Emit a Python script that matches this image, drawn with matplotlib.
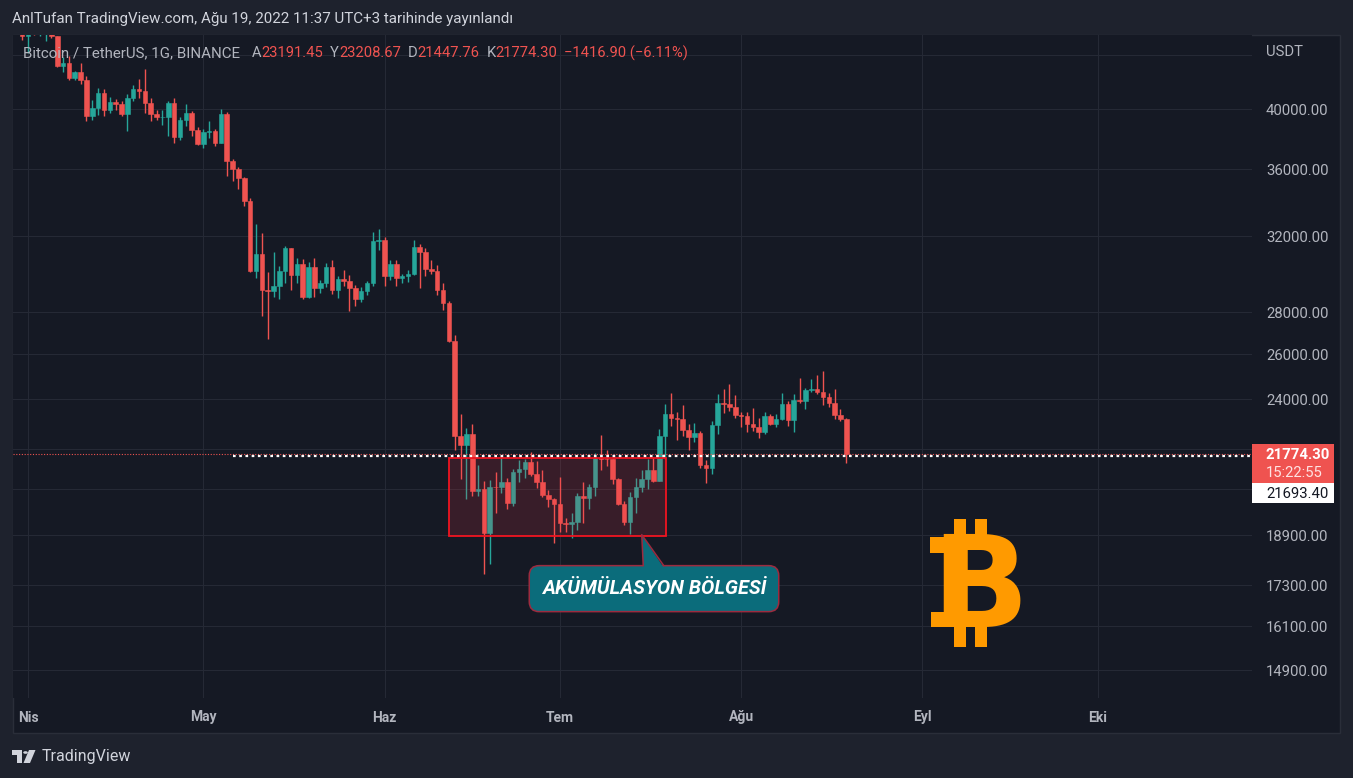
import numpy as np
import pandas as pd
import matplotlib
matplotlib.use('Agg')
import matplotlib.pyplot as plt
import matplotlib.dates as mdates
from matplotlib import transforms
from matplotlib.patches import Rectangle, FancyBboxPatch, Polygon, Circle
from matplotlib.lines import Line2D

plt.rcParams['font.family'] = ['Roboto', 'DejaVu Sans']

W, H = 1353, 778
OUTER = '#1e222d'
PANE = '#151924'
GRID = '#252935'
BORDER = '#2a2e39'
UP = '#26a69a'
DOWN = '#ef5350'
GRAY = '#b2b5be'
ORANGE = '#ff9a00'

# BTCUSDT gunluk mumlar, 29 Mart - 19 Agustos 2022
start = '2022-03-29'
opens = [47433, 47062, 47067,
         45510, 46283, 45811, 46407, 46580, 45497, 43170, 43444, 42252, 42753, 42158, 39530, 40074, 41147, 39942,
         40552, 40378, 39678, 40801, 41493, 41358, 40480, 39709, 39441, 39450, 40426, 38112, 39235, 39742, 38596,
         37630, 38468, 38525, 37728, 39690, 36552, 36013, 35472, 34038, 30074, 31017, 29103, 29030, 29287, 30086,
         31328, 29874, 30444, 28715, 30319, 29201, 29445, 30293, 29109, 29655, 29542, 29202, 28622, 29019, 29443, 31726,
         31793, 29799, 30467, 29704, 29833, 29906, 31370, 31125, 30204, 30110, 29091, 28424, 26575, 22485, 22136,
         22583, 20401, 20468, 18970, 20574, 20573, 20724, 19988, 21111, 21228, 21489, 21039, 20742, 20281, 20123,
         19942, 19279, 19252, 19315, 20236, 20175, 20564, 21624, 21594, 21592, 20862, 19963, 19328, 20212, 20569,
         20836, 21190, 20780, 22485, 23389, 23231, 23164, 22714, 22465, 22609, 21361, 21239, 22930, 23843, 23804, 23656,
         23336, 23314, 22978, 22846, 22630, 23312, 22954, 23175, 23810, 23150, 23954, 23934, 24403, 24442, 24305,
         24095, 23855, 23336, 23191.45]
highs = [48189, 47700, 47600,
         46720, 47213, 47444, 46890, 47200, 45507, 43900, 43970, 42800, 43410, 42414, 40700, 41561, 41500, 40870,
         40709, 40595, 41116, 41760, 42199, 42976, 40795, 39980, 39940, 40616, 40797, 39474, 40372, 39925, 38795,
         38675, 39167, 38651, 40023, 39845, 36675, 36146, 35514, 34243, 32658, 32162, 30032, 31083, 30343, 31460,
         31328, 30788, 30709, 30545, 30777, 29618, 30487, 30670, 29828, 30158, 29868, 29360, 29250, 29559, 32222, 32399,
         31957, 30690, 30675, 29950, 30150, 31765, 31557, 31326, 30700, 30386, 29440, 28544, 26895, 23363, 22800,
         22980, 21365, 20792, 20815, 21090, 21723, 20880, 21233, 21558, 21610, 21868, 21539, 21194, 20433, 20179,
         20918, 19466, 19647, 20354, 20750, 20675, 21838, 22527, 21951, 21607, 20868, 20059, 20366, 20880, 21200,
         21588, 21684, 22777, 23800, 24276, 23442, 23756, 22977, 23014, 22677, 21560, 23112, 24199, 24442, 24668, 24194,
         23464, 23471, 23647, 23223, 23475, 23398, 23400, 24245, 23929, 24226, 24918, 24456, 24888, 25047, 25212,
         24247, 24446, 23602, 23208.67]
lows = [46930, 46445, 45200,
        44200, 45620, 45530, 45118, 45353, 43121, 42727, 42107, 42125, 41868, 39200, 39254, 39588, 39551, 39766,
        39991, 39546, 38536, 40571, 40820, 39751, 39177, 39285, 38929, 38200, 37702, 37881, 38881, 38175, 37578,
        37386, 38052, 37517, 37671, 35571, 35258, 34785, 33713, 30033, 29730, 27785, 26700, 28751, 28630, 29480,
        29087, 29450, 28654, 28670, 28730, 28947, 29255, 28866, 28669, 29295, 28019, 28282, 28500, 28850, 29299, 31202,
        29310, 29594, 29282, 29450, 29517, 29884, 29218, 29844, 29944, 28850, 28099, 26560, 21925, 20846, 20111,
        20232, 20246, 17622, 17960, 19637, 20348, 19770, 19890, 20740, 20880, 20960, 20510, 20188, 19839, 18626,
        18975, 18977, 18781, 19055, 19304, 19770, 20240, 21189, 21322, 20655, 19900, 19240, 18910, 19650, 20382,
        20478, 20750, 20762, 21581, 22906, 22341, 22500, 21934, 22257, 21250, 20706, 21042, 22582, 23414, 23502, 23227,
        22850, 22664, 22681, 22400, 22586, 22925, 22841, 23150, 22883, 22664, 23852, 23583, 24300, 24200, 23773,
        23671, 23180, 23100, 21447.76]
closes = [47062, 47067, 45510,
          46283, 45811, 46407, 46580, 45497, 43170, 43444, 42252, 42753, 42158, 39530, 40074, 41147, 39942, 40552,
          40378, 39678, 40801, 41493, 41358, 40480, 39709, 39441, 39450, 40426, 38112, 39235, 39742, 38596, 37630,
          38468, 38525, 37728, 39690, 36552, 36013, 35472, 34038, 30076, 31017, 29103, 29030, 29287, 30086, 31328,
          29874, 30444, 28715, 30319, 29201, 29445, 30293, 29109, 29655, 29542, 29202, 28622, 29019, 29443, 31726, 31793,
          29799, 30467, 29704, 29833, 29906, 31370, 31125, 30204, 30110, 29091, 28424, 26575, 22487, 22136, 22583,
          20401, 20468, 18970, 20574, 20573, 20724, 19987, 21111, 21228, 21489, 21039, 20742, 20281, 20123, 19942,
          19279, 19252, 19315, 20236, 20175, 20564, 21624, 21594, 21591, 20862, 19963, 19328, 20212, 20569, 20836,
          21190, 20779, 22485, 23389, 23231, 23164, 22714, 22465, 22609, 21361, 21239, 22930, 23843, 23804, 23656, 23336,
          23314, 22978, 22846, 22630, 23312, 22954, 23175, 23810, 23150, 23954, 23934, 24403, 24442, 24305, 24095,
          23855, 23336, 23191.20, 21774.30]

months = ['2022-04-01', '2022-05-01', '2022-06-01', '2022-07-01', '2022-08-01', '2022-09-01', '2022-10-01']
month_names = ['Nis', 'May', 'Haz', 'Tem', 'Ağu', 'Eyl', 'Eki']
grid_prices = [44000, 40000, 36000, 32000, 28000, 26000, 24000, 22000, 20500, 18900, 17300, 16100, 14900]
label_prices = [40000, 36000, 32000, 28000, 26000, 24000, 18900, 17300, 16100, 14900]
ray_price = 21693.40
zone = ('2022-06-12 02:00', '2022-07-19 02:00', 18860, 21630)
countdown = '15:22:55'


def fx(x):
    return x / W


def fy(y):
    return 1 - y / H


fig = plt.figure(figsize=(W / 100, H / 100), dpi=100, facecolor=OUTER)
fig.add_artist(Rectangle((fx(13), fy(733)), (1340 - 13) / W, (733 - 35) / H, transform=fig.transFigure,
                         facecolor=PANE, edgecolor=BORDER, lw=1, zorder=-5))

ax = fig.add_axes([fx(13), fy(698), (1252 - 13) / W, (698 - 35) / H])
ax.set_facecolor(PANE)
for s in ax.spines.values():
    s.set_visible(False)

dates = pd.date_range(start, periods=len(opens), freq='D')
x = mdates.date2num(dates)
o = np.array(opens)
h = np.array(highs)
l = np.array(lows)
c = np.array(closes)
cols = np.where(c >= o, UP, DOWN)

ax.set_yscale('log')
x0 = mdates.date2num(pd.Timestamp(months[0]))
ax.set_xlim(x0 - 2.566, x0 + 209.4)
ax.set_ylim(14170, 45610)

for p in grid_prices:
    ax.axhline(p, color=GRID, lw=0.8, zorder=0)
mnum = mdates.date2num(pd.to_datetime(months))
for m in mnum:
    ax.axvline(m, color=GRID, lw=0.8, zorder=0)

ax.vlines(x, l, h, colors=cols, lw=1.0, zorder=2)
ax.bar(x, np.abs(c - o), bottom=np.minimum(o, c), width=0.78, color=cols, edgecolor=cols, linewidth=0.4, zorder=3)

# birikim bolgesi
zx0 = mdates.date2num(pd.Timestamp(zone[0]))
zx1 = mdates.date2num(pd.Timestamp(zone[1]))
ax.add_patch(Rectangle((zx0, zone[2]), zx1 - zx0, zone[3] - zone[2], facecolor=(0.95, 0.21, 0.27, 0.16),
                       edgecolor='#f01420', lw=1.3, zorder=4))

# fiyat cizgileri
ax.axhline(c[-1], color=DOWN, lw=0.8, ls=(0, (1, 1.5)), zorder=5)
ray_start = mdates.date2num(pd.Timestamp('2022-05-06'))
ax.hlines(ray_price, ray_start, ax.get_xlim()[1], color='white', lw=1.6, ls=(0, (1.2, 1.6)), zorder=5)

ax.set_xticks(mnum, month_names)
ax.tick_params(axis='x', length=0, pad=9, labelcolor=GRAY, labelsize=10)
for t in ax.get_xticklabels():
    t.set_fontweight('bold')
ax.tick_params(axis='y', which='both', left=False, labelleft=False)

# fiyat ekseni
blend = transforms.blended_transform_factory(fig.transFigure, ax.transData)
blend = transforms.offset_copy(blend, fig=fig, y=-2, units='dots')
for p in label_prices:
    fig.text(fx(1266), p, f'{p:.2f}', transform=blend, color=GRAY, fontsize=10.7, va='center', ha='left')
fig.text(fx(1266), fy(52), 'USDT', color=GRAY, fontsize=10.7, va='center', ha='left')


def ypx(price):
    return H - ax.transData.transform((x0, price))[1]


yc = ypx(c[-1])
fig.add_artist(Rectangle((fx(1252), fy(yc + 28.5)), 82 / W, 39 / H, transform=fig.transFigure,
                         facecolor=DOWN, edgecolor='none', zorder=6))
fig.text(fx(1266), fy(yc + 1), f'{c[-1]:.2f}', color='white', fontsize=10.7, fontweight='bold', va='center', zorder=7)
fig.text(fx(1266), fy(yc + 18.5), countdown, color='#ffe2e2', fontsize=10.7, va='center', zorder=7)
fig.add_artist(Rectangle((fx(1252), fy(yc + 48.5)), 82 / W, 20 / H, transform=fig.transFigure,
                         facecolor='white', edgecolor='none', zorder=6))
fig.text(fx(1266), fy(yc + 39.5), f'{ray_price:.2f}', color='#131722', fontsize=10.7, va='center', zorder=7)

# baslik ve gosterge satiri
fig.text(fx(12), fy(19), 'AnlTufan TradingView.com, Ağu 19, 2022 11:37 UTC+3 tarihinde yayınlandı',
         color='#d1d4dc', fontsize=10.9, va='center', ha='left')

chg = c[-1] - c[-2]
pct = chg / c[-2] * 100
segs = [('A', GRAY, 8.5), (f'{o[-1]:.2f}', DOWN, 0), ('Y', GRAY, 5.0), (f'{h[-1]:.2f}', DOWN, 0),
        ('D', GRAY, 5.0), (f'{l[-1]:.2f}', DOWN, 0), ('K', GRAY, 5.0), (f'{c[-1]:.2f}', DOWN, 0),
        (f'{chg:.2f} ({pct:.2f}%)'.replace('-', '−'), DOWN, 5.0)]
prev = fig.text(fx(23), fy(53), 'Bitcoin / TetherUS, 1G, BINANCE', color=GRAY, fontsize=10.9, va='center',
                ha='left', zorder=8)
for txt, col, gap in segs:
    prev = ax.annotate(txt, xy=(1, 0.5), xycoords=prev, xytext=(gap, 0), textcoords='offset points',
                       color=col, fontsize=10.6, va='center', ha='left', annotation_clip=False, zorder=8)

# aciklama balonu
ident = transforms.IdentityTransform()
apx = ax.transData.transform((mdates.date2num(pd.Timestamp('2022-07-15')), 18900))
axp, ayp = apx[0], apx[1]
bx0, bx1 = axp - 112.5, axp + 137
by_top, by_bot = ayp - 31, ayp - 77
box = FancyBboxPatch((bx0, by_bot), bx1 - bx0, by_top - by_bot, boxstyle='round,pad=0,rounding_size=10',
                     transform=ident, facecolor='#0b6c7b', edgecolor='#9c2b3f', lw=1.1, zorder=9)
fig.add_artist(box)
fig.add_artist(Polygon([(axp + 1.5, by_top - 2), (axp, ayp), (axp + 22, by_top - 2)], closed=True,
                       transform=ident, facecolor='#0b6c7b', edgecolor='none', zorder=10))
fig.add_artist(Line2D([axp + 1.5, axp, axp + 22], [by_top, ayp, by_top], transform=ident,
                      color='#9c2b3f', lw=1.1, zorder=10))
fig.text((bx0 + bx1) / 2 / W, (by_top + by_bot) / 2 / H, 'AKÜMÜLASYON BÖLGESİ', color='white',
         fontsize=14.3, fontweight='bold', fontstyle='italic', ha='center', va='center', zorder=11)

# bitcoin logosu
fig.text(fx(931), fy(627), 'B', family='DejaVu Sans', fontsize=92, fontweight='bold', color=ORANGE,
         ha='left', va='baseline', zorder=3)
for bx in (954, 975):
    fig.add_artist(Rectangle((fx(bx), fy(540)), 12 / W, 21 / H, transform=fig.transFigure,
                             facecolor=ORANGE, edgecolor='none', zorder=3))
    fig.add_artist(Rectangle((fx(bx), fy(647)), 12 / W, 23 / H, transform=fig.transFigure,
                             facecolor=ORANGE, edgecolor='none', zorder=3))
fig.add_artist(Rectangle((fx(930), fy(553)), 18 / W, 16 / H, transform=fig.transFigure,
                         facecolor=ORANGE, edgecolor='none', zorder=3))
fig.add_artist(Rectangle((fx(931), fy(627)), 17 / W, 15 / H, transform=fig.transFigure,
                         facecolor=ORANGE, edgecolor='none', zorder=3))

# tradingview logosu
LOGO = '#d1d4dc'
fig.add_artist(Rectangle((fx(12), fy(755)), 10 / W, 5 / H, transform=fig.transFigure, facecolor=LOGO, lw=0))
fig.add_artist(Rectangle((fx(17), fy(763)), 5 / W, 13 / H, transform=fig.transFigure, facecolor=LOGO, lw=0))
fig.add_artist(Circle((fx(25.5), fy(752.5)), 2.3 / W, transform=fig.transFigure, facecolor=LOGO, lw=0))
fig.add_artist(Polygon([(fx(29), fy(750)), (fx(35.5), fy(750)), (fx(30), fy(763)), (fx(23.5), fy(763))],
                       closed=True, transform=fig.transFigure, facecolor=LOGO, lw=0))
fig.text(fx(42), fy(757), 'TradingView', color=LOGO, fontsize=11.5, va='center', ha='left')

fig.savefig('out.png', dpi=100, facecolor=OUTER)
